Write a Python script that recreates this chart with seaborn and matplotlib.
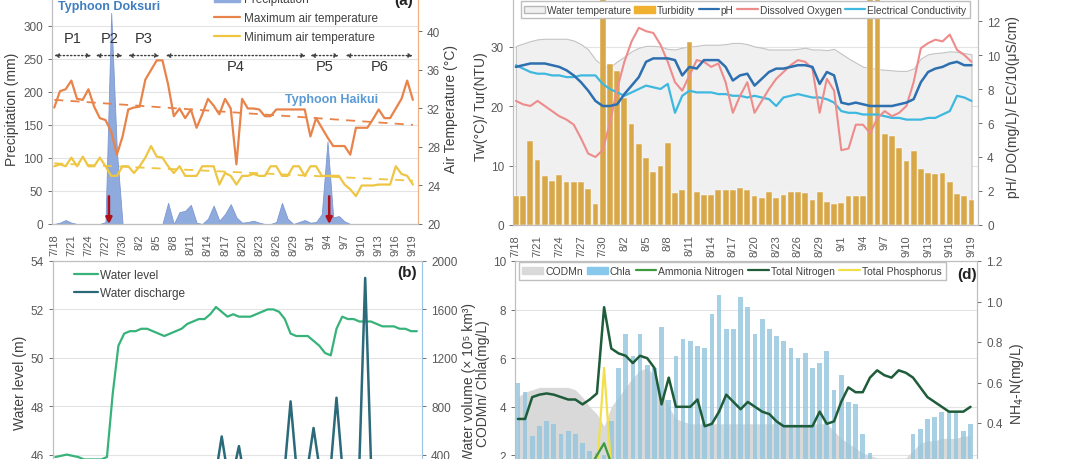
import numpy as np
import matplotlib
matplotlib.use("Agg")
import matplotlib.pyplot as plt
import seaborn as sns
from matplotlib.patches import Patch
from matplotlib.lines import Line2D

sns.set_theme(style="white")
plt.rcParams['font.family'] = ['Liberation Sans', 'DejaVu Sans']

# ---- data (daily, 7/18 .. 9/19) ----
tick_labels = ['7/18', '7/21', '7/24', '7/27', '7/30', '8/2', '8/5', '8/8', '8/11', '8/14', '8/17',
               '8/20', '8/23', '8/26', '8/29', '9/1', '9/4', '9/7', '9/10', '9/13', '9/16', '9/19']
days = np.arange(64)

precipitation = [0, 2, 6, 2, 0, 0, 0, 0, 0, 3, 320, 110, 0, 0, 0, 0, 0, 0, 0, 0,
                 32, 0, 18, 20, 29, 2, 0, 8, 28, 5, 15, 30, 10, 2, 3, 5, 2, 0, 0, 3,
                 32, 8, 0, 3, 6, 2, 3, 15, 125, 10, 12, 4, 0, 0, 0, 0, 0, 0, 0, 0,
                 0, 0, 0, 0]
max_temp = [32.1, 33.8, 34.0, 34.9, 33.0, 32.9, 34.0, 32.2, 31.0, 30.8, 29.6, 27.2, 29.1, 31.9, 32.1, 32.2,
            35.0, 36.0, 37.0, 37.0, 34.5, 31.2, 32.0, 31.0, 31.9, 30.0, 31.4, 33.0, 32.3, 31.4, 33.0, 32.0,
            26.2, 33.0, 32.0, 32.0, 31.9, 31.2, 31.2, 31.9, 31.9, 31.9, 31.9, 31.9, 31.9, 29.1, 31.0, 30.0,
            29.0, 28.1, 28.1, 28.1, 27.2, 30.0, 30.0, 30.0, 30.9, 31.9, 31.0, 31.0, 32.0, 33.0, 34.9, 32.9]
min_temp = [26.0, 26.2, 26.0, 26.9, 26.0, 27.0, 26.0, 26.0, 26.9, 26.0, 25.0, 25.0, 26.0, 26.0, 25.3, 26.0,
            26.9, 28.1, 27.0, 26.9, 26.0, 25.3, 26.0, 25.0, 25.0, 25.0, 26.0, 26.0, 26.0, 24.1, 25.3, 25.0,
            24.1, 25.0, 25.0, 25.2, 25.0, 25.0, 26.0, 26.0, 25.0, 25.0, 26.0, 26.0, 25.0, 26.0, 26.0, 25.0,
            25.0, 25.0, 25.0, 24.1, 23.6, 22.9, 24.0, 24.0, 24.0, 24.1, 24.1, 24.1, 26.0, 25.2, 25.0, 24.1]
max_trend = [32.9, 30.3]
min_trend = [26.3, 24.5]

period_names = ['P1', 'P2', 'P3', 'P4', 'P5', 'P6']
period_start = [0, 7.3, 13, 19.6, 45, 51.2]
period_end = [6.5, 12, 18.5, 44.2, 50, 63]
period_label_y = [282, 282, 282, 240, 240, 240]
typhoon_days = [9.6, 48.3]

water_temp = [30.1, 30.5, 30.9, 31.2, 31.3, 31.3, 31.3, 31.3, 31.0, 30.4, 29.5, 27.8, 26.8, 26.5, 27.5, 28.3,
              29.2, 29.8, 30.1, 30.1, 30.0, 29.6, 29.5, 29.8, 30.0, 30.1, 30.3, 30.3, 30.3, 30.4, 30.6, 30.6,
              30.4, 30.0, 29.8, 29.5, 29.5, 29.5, 29.5, 29.6, 29.8, 29.5, 29.5, 29.4, 29.6, 28.8, 28.0, 27.3,
              26.6, 26.4, 26.2, 26.1, 26.0, 25.9, 25.9, 26.3, 28.0, 28.7, 28.9, 29.0, 29.2, 29.1, 28.9, 28.7]
turbidity = [4.9, 4.9, 14.1, 10.9, 8.3, 7.4, 8.4, 7.3, 7.2, 7.2, 6.1, 3.6, 60, 27.0, 25.9, 21.4,
             17.0, 13.6, 11.3, 8.9, 9.9, 13.7, 5.3, 5.9, 30.7, 5.6, 5.0, 5.0, 5.9, 5.9, 5.9, 6.3,
             5.9, 4.8, 4.5, 5.6, 4.6, 5.0, 5.6, 5.6, 5.3, 4.2, 5.6, 3.9, 3.5, 3.7, 4.9, 4.8,
             4.8, 60, 60, 15.3, 15.0, 13.0, 10.8, 12.5, 9.4, 8.8, 8.5, 8.8, 7.3, 5.2, 4.9, 4.2]
ph = [9.3, 9.4, 9.5, 9.5, 9.5, 9.4, 9.3, 9.1, 8.8, 8.4, 7.9, 7.3, 7.0, 7.0, 7.1, 7.7,
      8.2, 8.7, 9.6, 9.8, 9.8, 9.8, 9.7, 8.8, 9.3, 9.2, 9.7, 9.7, 9.7, 9.3, 8.5, 8.8,
      8.9, 8.2, 8.6, 9.0, 9.2, 9.2, 9.3, 9.4, 9.4, 9.3, 8.3, 9.0, 8.8, 7.2, 7.1, 7.2,
      7.1, 7.0, 7.0, 7.0, 7.0, 7.1, 7.2, 7.4, 8.4, 9.0, 9.2, 9.3, 9.5, 9.6, 9.4, 9.4]
dissolved_oxygen = [7.3, 7.1, 7.0, 7.3, 7.0, 6.7, 6.4, 6.2, 5.9, 5.1, 4.2, 4.0, 4.4, 6.0, 8.0, 9.6,
                    10.8, 11.6, 11.4, 11.3, 10.6, 9.6, 8.4, 7.9, 8.8, 9.7, 9.6, 9.3, 9.5, 8.4, 6.6, 7.6,
                    8.4, 6.6, 7.3, 8.0, 8.6, 9.0, 9.4, 9.7, 9.6, 9.2, 6.6, 8.6, 7.9, 4.4, 4.5, 5.9,
                    5.9, 5.4, 6.3, 6.7, 6.4, 6.6, 7.0, 8.4, 10.4, 10.7, 10.9, 10.8, 11.2, 10.3, 10.0, 9.6]
conductivity = [9.4, 9.2, 9.0, 8.9, 8.9, 8.8, 8.8, 8.7, 8.7, 8.8, 8.8, 8.8, 8.3, 8.0, 7.8, 7.6,
                7.8, 8.0, 8.2, 8.1, 8.0, 8.3, 6.6, 7.6, 7.9, 7.8, 7.8, 7.8, 7.7, 7.7, 7.6, 7.6,
                7.5, 7.6, 7.5, 7.4, 7.0, 7.5, 7.6, 7.7, 7.6, 7.5, 7.5, 7.4, 7.2, 6.7, 6.6, 6.6,
                6.5, 6.5, 6.5, 6.4, 6.3, 6.3, 6.2, 6.2, 6.2, 6.3, 6.3, 6.5, 6.7, 7.6, 7.5, 7.3]

water_level = [45.9, 45.95, 46.0, 45.95, 45.9, 45.8, 45.8, 45.8, 45.8, 45.9, 48.5, 50.5, 51.0, 51.1, 51.1, 51.2,
               51.2, 51.1, 51.0, 50.9, 51.0, 51.1, 51.2, 51.4, 51.5, 51.6, 51.6, 51.8, 52.1, 51.9, 51.7, 51.8,
               51.7, 51.7, 51.7, 51.8, 51.9, 52.0, 52.0, 51.9, 51.6, 51.0, 50.9, 50.9, 50.9, 50.7, 50.5, 50.2,
               50.1, 51.2, 51.7, 51.6, 51.6, 51.5, 51.5, 51.5, 51.4, 51.3, 51.3, 51.3, 51.2, 51.2, 51.1, 51.1]
discharge = [80, 80, 80, 80, 80, 80, 80, 80, 80, 80, 250, 200, 150, 150, 150, 150,
             150, 150, 150, 150, 150, 150, 150, 150, 150, 150, 150, 150, 250, 550, 250, 250,
             470, 200, 180, 180, 180, 180, 180, 180, 300, 840, 300, 200, 300, 620, 300, 200,
             300, 870, 300, 200, 250, 350, 1860, 350, 200, 200, 200, 200, 200, 200, 200, 200]

codmn = [4.4, 4.6, 4.7, 4.8, 4.8, 4.8, 4.8, 4.8, 4.7, 4.4, 4.0, 3.7, 3.2, 4.0, 4.4, 4.8,
         5.2, 5.5, 5.6, 5.3, 4.6, 4.0, 3.5, 3.4, 3.3, 3.3, 3.3, 3.3, 3.3, 3.3, 3.3, 3.3,
         3.3, 3.3, 3.3, 3.3, 3.3, 3.3, 3.3, 3.3, 3.3, 3.3, 3.3, 3.3, 3.0, 2.7, 2.5, 2.3,
         2.1, 2.0, 1.9, 1.9, 1.9, 1.9, 1.9, 2.2, 2.5, 2.6, 2.6, 2.7, 2.7, 2.7, 2.8, 2.8]
chla = [5.0, 4.6, 2.8, 3.2, 3.4, 3.3, 2.9, 3.0, 2.9, 2.5, 2.2, 2.1, 2.0, 3.4, 5.6, 7.0,
        6.1, 7.0, 5.7, 5.6, 7.3, 4.3, 6.1, 6.8, 6.7, 6.5, 6.4, 7.8, 8.6, 7.2, 7.2, 8.5,
        8.1, 7.0, 7.6, 7.2, 6.9, 6.7, 6.4, 6.0, 6.2, 5.6, 5.8, 6.3, 4.7, 5.3, 4.2, 4.1,
        2.9, 2.1, 1.5, 1.5, 1.5, 1.5, 1.5, 2.9, 3.1, 3.5, 3.6, 3.8, 3.8, 3.8, 3.0, 3.3]
total_n = [3.5, 3.5, 4.4, 4.5, 4.55, 4.5, 4.4, 4.3, 4.3, 4.1, 4.3, 4.55, 8.1, 6.4, 6.2, 6.1,
           5.8, 6.1, 6.0, 5.6, 4.1, 5.2, 4.0, 4.0, 4.0, 4.3, 3.2, 3.3, 3.8, 4.5, 4.2, 3.9,
           4.2, 4.0, 3.8, 3.7, 3.4, 3.2, 3.2, 3.2, 3.2, 3.2, 3.8, 3.3, 3.4, 4.2, 4.8, 4.6,
           4.6, 5.2, 5.5, 5.3, 5.2, 5.5, 5.4, 5.2, 4.8, 4.4, 4.2, 4.0, 3.8, 3.8, 3.8, 4.0]
total_p = [1.0, 1.0, 1.0, 1.0, 1.0, 1.0, 1.0, 1.0, 1.0, 1.0, 1.1, 1.4, 5.6, 1.4, 1.1, 1.0,
           1.0, 1.0, 1.0, 1.0, 1.0, 1.0, 1.0, 1.0, 1.0, 1.0, 1.0, 1.0, 1.0, 1.0, 1.0, 1.0,
           1.0, 1.0, 1.0, 1.0, 1.0, 1.0, 1.0, 1.0, 1.0, 1.0, 1.0, 1.0, 1.0, 1.0, 1.0, 1.0,
           1.0, 1.0, 1.0, 1.0, 1.0, 1.0, 1.0, 1.0, 1.0, 1.0, 1.0, 1.0, 1.0, 1.0, 1.0, 1.0]
ammonia = [0.12, 0.12, 0.12, 0.12, 0.12, 0.12, 0.12, 0.12, 0.12, 0.14, 0.18, 0.24, 0.30, 0.20, 0.14, 0.12,
           0.12, 0.12, 0.12, 0.12, 0.12, 0.12, 0.12, 0.12, 0.12, 0.12, 0.12, 0.12, 0.12, 0.12, 0.12, 0.12,
           0.12, 0.12, 0.12, 0.12, 0.12, 0.12, 0.12, 0.12, 0.12, 0.12, 0.12, 0.12, 0.12, 0.12, 0.12, 0.12,
           0.12, 0.12, 0.12, 0.12, 0.12, 0.12, 0.12, 0.12, 0.12, 0.12, 0.12, 0.12, 0.12, 0.12, 0.12, 0.12]

# colours
c_prec = '#8faadc'
c_tmax = '#e8834a'
c_tmin = '#eec643'
c_wt = '#f0f0f0'
c_tur = '#f0b030'
c_ph = '#2e6fb0'
c_do = '#ee8c8c'
c_ec = '#3eb8df'
c_wl = '#37b37a'
c_wd = '#2b6a7a'
c_cod = '#d9d9d9'
c_chla = '#86c9ec'
c_nh = '#3c9a3c'
c_tn = '#1f5c3a'
c_tp = '#f2e04a'
txt = '#404040'
tick_c = '#595959'

fig = plt.figure(figsize=(10.8, 4.6), dpi=100)


def px_axes(x0, x1, ytop, ybot):
    return fig.add_axes([x0 / 1080, 1 - ybot / 460, (x1 - x0) / 1080, (ybot - ytop) / 460])


def style(ax, spine_col='#bfbfbf'):
    for s in ax.spines.values():
        s.set_color(spine_col)
        s.set_linewidth(0.8)
    ax.tick_params(axis='both', labelsize=8.5, colors=tick_c, length=3, width=0.6, direction='out')
    ax.tick_params(axis='x', labelsize=8, labelrotation=90)


def xaxis(ax, labels=True):
    ax.set_xticks(np.arange(0, 64, 3))
    if labels:
        ax.set_xticklabels(tick_labels)
    else:
        ax.set_xticklabels([])
    ax.set_xlim(-0.4, 63.9)
    ax.set_xlabel('')


ax_a = px_axes(52, 418, -6, 225)
ax_c = px_axes(513, 978, -12, 226)
ax_b = px_axes(53, 422, 262, 504)
ax_d = px_axes(515, 977, 262, 505)

# ---------------- (a) ----------------
ax_a.fill_between(days, 0, precipitation, color=c_prec, edgecolor='#7c98d2', lw=0.6, zorder=2)
ax_a.set_ylim(0, 350)
ax_a.set_yticks(range(0, 301, 50))
ax_a.yaxis.grid(True, color='#e3e3e3', lw=0.8)
ax_a.set_axisbelow(True)
xaxis(ax_a)
style(ax_a)
ax_a.set_ylabel('Precipitation (mm)', fontsize=10, color=txt, labelpad=3)

ta = ax_a.twinx()
sns.lineplot(x=days, y=max_temp, ax=ta, color=c_tmax, lw=1.6)
sns.lineplot(x=days, y=min_temp, ax=ta, color=c_tmin, lw=1.6)
sns.lineplot(x=[0, 63], y=max_trend, ax=ta, color=c_tmax, lw=1.3, linestyle=(0, (5, 4)))
sns.lineplot(x=[0, 63], y=min_trend, ax=ta, color=c_tmin, lw=1.3, linestyle=(0, (5, 4)))
ta.set_ylim(20, 44)
ta.set_yticks(range(20, 41, 4))
style(ta)
ta.spines['right'].set_color('#f4b183')
ta.set_ylabel('Air Temperature (°C)', fontsize=10, color=txt, labelpad=3)
xaxis(ta)

for name, s, e, ly in zip(period_names, period_start, period_end, period_label_y):
    ta.annotate('', xy=(e, 37.5), xytext=(s, 37.5),
                arrowprops=dict(arrowstyle='<|-|>', linestyle=':', color='#404040', lw=1.0,
                                mutation_scale=6, shrinkA=0, shrinkB=0))
    ax_a.text((s + e) / 2, ly, name, ha='center', va='center', fontsize=10.5, color='#333333', zorder=5)

for d in typhoon_days:
    ax_a.annotate('', xy=(d, 0), xytext=(d, 42),
                  arrowprops=dict(arrowstyle='-|>', color='#b0101a', lw=1.8, mutation_scale=9,
                                  shrinkA=0, shrinkB=0), zorder=6)
ax_a.text(0.6, 330, 'Typhoon Doksuri', fontsize=9, color='#3f7fc1', fontweight='bold', va='center')
ax_a.text(40.5, 190, 'Typhoon Haikui', fontsize=9, color='#5b9bd5', fontweight='bold', va='center')
ta.text(0.985, 1.0, '(a)', transform=ta.transAxes, ha='right', va='top', fontsize=11, fontweight='bold', color='#222222')
ta.legend(handles=[Patch(color=c_prec, label='Precipitation'),
                   Line2D([], [], color=c_tmax, lw=1.6, label='Maximum air temperature'),
                   Line2D([], [], color=c_tmin, lw=1.6, label='Minimum air temperature')],
          loc='upper left', bbox_to_anchor=(0.43, 1.02), frameon=False, fontsize=8.5,
          labelcolor=txt, handlelength=2.2, labelspacing=0.6, borderaxespad=0, handletextpad=0.3)

# ---------------- (c) ----------------
ax_c.fill_between(days, 0, water_temp, color=c_wt, edgecolor='#c4c4c4', lw=0.8, zorder=1)
sns.barplot(x=days, y=turbidity, ax=ax_c, color=c_tur, width=0.8, edgecolor='white', linewidth=0.3, zorder=2)
ax_c.set_ylim(0, 40)
ax_c.set_yticks([0, 10, 20, 30])
ax_c.yaxis.grid(True, color='#e3e3e3', lw=0.8)
ax_c.set_axisbelow(True)
xaxis(ax_c)
style(ax_c)
ax_c.set_ylabel('Tw(°C)/ Tur(NTU)', fontsize=10, color=txt, labelpad=2)

tc = ax_c.twinx()
sns.lineplot(x=days, y=conductivity, ax=tc, color=c_ec, lw=1.6)
sns.lineplot(x=days, y=dissolved_oxygen, ax=tc, color=c_do, lw=1.5)
sns.lineplot(x=days, y=ph, ax=tc, color=c_ph, lw=1.8)
tc.set_ylim(0, 14)
tc.set_yticks(range(0, 13, 2))
style(tc)
xaxis(tc)
tc.set_ylabel('pH/ DO(mg/L)/ EC/10(μS/cm)', fontsize=10, color=txt, labelpad=4)
tc.legend(handles=[Patch(facecolor=c_wt, edgecolor='#b8b8b8', label='Water temperature'),
                   Patch(color=c_tur, label='Turbidity'),
                   Line2D([], [], color=c_ph, lw=1.6, label='pH'),
                   Line2D([], [], color=c_do, lw=1.6, label='Dissolved Oxygen'),
                   Line2D([], [], color=c_ec, lw=1.6, label='Electrical Conductivity')],
          loc='upper center', bbox_to_anchor=(0.5, 0.94), ncol=5, fontsize=7.3,
          labelcolor=txt, frameon=True, fancybox=False, edgecolor='#bfbfbf', framealpha=1,
          handlelength=2.0, handletextpad=0.2, columnspacing=0.35, borderaxespad=0, borderpad=0.35)

# ---------------- (b) ----------------
sns.lineplot(x=days, y=water_level, ax=ax_b, color=c_wl, lw=1.6)
ax_b.set_ylim(44, 54)
ax_b.set_yticks(range(46, 55, 2))
ax_b.yaxis.grid(True, color='#e3e3e3', lw=0.8)
ax_b.set_axisbelow(True)
xaxis(ax_b, labels=False)
style(ax_b)
ax_b.spines['left'].set_color('#9fd8b8')
ax_b.set_ylabel('Water level (m)', fontsize=10, color=txt, labelpad=3)

tb = ax_b.twinx()
sns.lineplot(x=days, y=discharge, ax=tb, color=c_wd, lw=1.8)
tb.set_ylim(0, 2000)
tb.set_yticks(range(400, 2001, 400))
style(tb)
tb.spines['right'].set_color('#9dc3e6')
xaxis(tb, labels=False)
tb.set_ylabel('Water volume (× 10⁵ km³)', fontsize=10, color=txt, labelpad=3)
tb.text(0.985, 0.985, '(b)', transform=tb.transAxes, ha='right', va='top', fontsize=11, fontweight='bold', color='#222222')
tb.legend(handles=[Line2D([], [], color=c_wl, lw=1.6, label='Water level'),
                   Line2D([], [], color=c_wd, lw=1.6, label='Water discharge')],
          loc='upper left', bbox_to_anchor=(0.045, 0.985), frameon=False, fontsize=8.5,
          labelcolor=txt, handlelength=2.0, labelspacing=0.5, borderaxespad=0, handletextpad=0.2)

# ---------------- (d) ----------------
ax_d.fill_between(days, 0, codmn, color=c_cod, lw=0, zorder=1)
sns.barplot(x=days, y=chla, ax=ax_d, color=c_chla, alpha=0.8, width=0.65, linewidth=0, zorder=2)
ax_d.set_ylim(0, 10)
ax_d.set_yticks(range(2, 11, 2))
ax_d.yaxis.grid(True, color='#e3e3e3', lw=0.8)
ax_d.set_axisbelow(True)
xaxis(ax_d, labels=False)
style(ax_d)
ax_d.set_ylabel('CODMn/ Chla(mg/L)', fontsize=10, color=txt, labelpad=2)
sns.lineplot(x=days, y=total_p, ax=ax_d, color=c_tp, lw=1.6, zorder=3)
sns.lineplot(x=days, y=total_n, ax=ax_d, color=c_tn, lw=1.8, zorder=4)

td = ax_d.twinx()
sns.lineplot(x=days, y=ammonia, ax=td, color=c_nh, lw=1.6)
td.set_ylim(0, 1.2)
td.set_yticks([0.4, 0.6, 0.8, 1.0, 1.2])
td.set_yticklabels(['0.4', '0.6', '0.8', '1.0', '1.2'])
style(td)
xaxis(td, labels=False)
td.set_ylabel('NH$_4$-N(mg/L)', fontsize=10, color=txt, labelpad=4)
td.text(1.0, 0.975, '(d)', transform=td.transAxes, ha='right', va='top', fontsize=11, fontweight='bold', color='#222222')
td.legend(handles=[Patch(color=c_cod, label='CODMn'),
                   Patch(color=c_chla, label='Chla'),
                   Line2D([], [], color=c_nh, lw=1.6, label='Ammonia Nitrogen'),
                   Line2D([], [], color=c_tn, lw=1.6, label='Total Nitrogen'),
                   Line2D([], [], color=c_tp, lw=1.6, label='Total Phosphorus')],
          loc='upper left', bbox_to_anchor=(0.008, 0.995), ncol=5, fontsize=7.5,
          labelcolor=txt, frameon=True, fancybox=False, edgecolor='#bfbfbf', framealpha=1,
          handlelength=2.0, handletextpad=0.2, columnspacing=0.4, borderaxespad=0, borderpad=0.35)

fig.savefig('out.png', dpi=100)
